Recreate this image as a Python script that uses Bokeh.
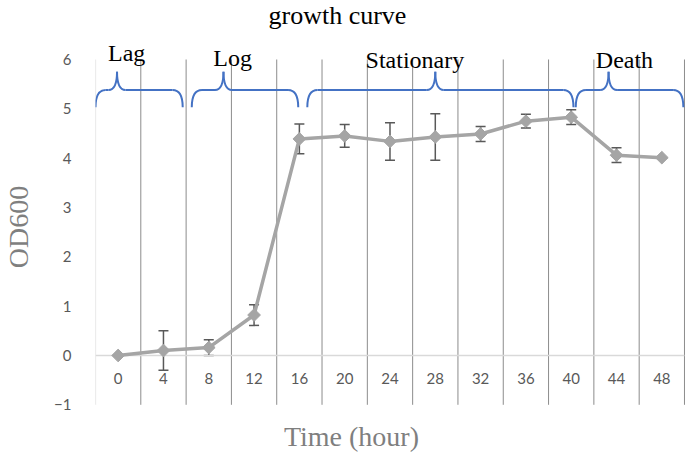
import math
from bokeh.plotting import figure
from bokeh.models import Range1d, FixedTicker, Label, Whisker, TeeHead, ColumnDataSource
from bokeh.core.properties import value
from bokeh.embed import file_html
from bokeh.resources import INLINE

# ---- data ----
hours = [0, 4, 8, 12, 16, 20, 24, 28, 32, 36, 40, 44, 48]
od600 = [0.0, 0.10, 0.16, 0.82, 4.39, 4.45, 4.34, 4.43, 4.49, 4.75, 4.83, 4.06, 4.01]
od600_err = [0.0, 0.40, 0.16, 0.21, 0.30, 0.23, 0.38, 0.47, 0.15, 0.14, 0.15, 0.15, 0.0]
x_tick_labels = ["0", "4", "8", "12", "16", "20", "24", "28", "32", "36", "40", "44", "48"]
y_ticks = [-1, 0, 1, 2, 3, 4, 5, 6]

phase_names = ["Lag", "Log", "Stationary", "Death"]
phase_start = [-2.0, 6.5, 16.7, 40.4]
phase_end = [5.7, 15.9, 40.2, 49.9]
phase_peak = [-0.1, 9.3, 28.0, 43.3]
phase_label_x = [0.75, 10.1, 26.2, 44.7]
phase_label_y = [6.14, 6.04, 5.98, 5.98]

# ---- figure ----
p = figure(width=685, height=453, output_backend="svg", toolbar_location=None,
           x_range=Range1d(-2, 50.09), y_range=Range1d(-1.987, 7.196),
           x_axis_location=None, min_border_left=95, min_border_right=0,
           min_border_top=0, min_border_bottom=0)
p.outline_line_color = None
p.xgrid.visible = False
p.ygrid.visible = False
p.background_fill_color = "white"
p.border_fill_color = "white"

ax = p.yaxis[0]
ax.ticker = FixedTicker(ticks=y_ticks)
ax.axis_line_color = None
ax.major_tick_line_color = None
ax.minor_tick_line_color = None
ax.major_label_standoff = 18
ax.major_label_text_font = "Lato"
ax.major_label_text_font_size = "15px"
ax.major_label_text_color = "#595959"
ax.axis_label = "OD600"
ax.axis_label_text_font = "Liberation Serif"
ax.axis_label_text_font_size = "28px"
ax.axis_label_text_font_style = "normal"
ax.axis_label_text_color = "#7f7f7f"
ax.axis_label_standoff = 17

# vertical category gridlines
bounds = [h - 2 for h in hours] + [hours[-1] + 2]
p.segment(x0=bounds[1:], y0=[y_ticks[0]] * (len(bounds) - 1),
          x1=bounds[1:], y1=[y_ticks[-1]] * (len(bounds) - 1),
          line_color="#8c8c8c", line_width=1)
p.segment(x0=[bounds[0]], y0=[y_ticks[0]], x1=[bounds[0]], y1=[y_ticks[-1]],
          line_color="#d9d9d9", line_width=1.2)
# zero line
p.segment(x0=[bounds[0]], y0=[0], x1=[bounds[-1]], y1=[0],
          line_color="#d9d9d9", line_width=1.5)

# x tick labels (inside plot, below zero line)
p.text(x=hours, y=[-0.47] * len(hours), text=x_tick_labels,
       text_font=value("Lato"), text_font_size="15px", text_color="#595959",
       text_align="center", text_baseline="middle")

# series
src = ColumnDataSource(dict(
    x=hours, y=od600,
    upper=[v + e for v, e in zip(od600, od600_err)],
    lower=[v - e for v, e in zip(od600, od600_err)],
))
p.line("x", "y", source=src, line_color="#a5a5a5", line_width=3.5)
wh = Whisker(source=src, base="x", upper="upper", lower="lower", dimension="height",
             line_color="#595959", line_width=1.5,
             upper_head=TeeHead(size=10, line_color="#595959", line_width=1.5),
             lower_head=TeeHead(size=10, line_color="#595959", line_width=1.5))
p.add_layout(wh)
p.scatter("x", "y", source=src, marker="square", angle=math.pi / 4, size=9,
          fill_color="#a5a5a5", line_color="#a5a5a5")

# phase braces
yE, yB, yT = 5.03, 5.38, 5.75
r_end, r_tip = 0.9, 0.75
qx0, qy0, qx1, qy1, qcx, qcy = [], [], [], [], [], []
sx0, sx1 = [], []
for x0, x1, xp in zip(phase_start, phase_end, phase_peak):
    qx0 += [x0, xp - r_tip, xp, x1 - r_end]
    qy0 += [yE, yB, yT, yB]
    qx1 += [x0 + r_end, xp, xp + r_tip, x1]
    qy1 += [yB, yT, yB, yE]
    qcx += [x0, xp, xp, x1]
    qcy += [yB, yB, yB, yB]
    sx0 += [x0 + r_end, xp + r_tip]
    sx1 += [xp - r_tip, x1 - r_end]
p.quadratic(x0=qx0, y0=qy0, x1=qx1, y1=qy1, cx=qcx, cy=qcy,
            line_color="#4472c4", line_width=2)
p.segment(x0=sx0, y0=[yB] * len(sx0), x1=sx1, y1=[yB] * len(sx1),
          line_color="#4472c4", line_width=2)

p.text(x=phase_label_x, y=phase_label_y, text=phase_names,
       text_font=value("Liberation Serif"), text_font_size="24px", text_color="black",
       text_align="center", text_baseline="alphabetic")

# title and x label
p.add_layout(Label(x=19.36, y=6.89, text="growth curve", text_font="Liberation Serif",
                   text_font_size="26px", text_color="black", text_align="center",
                   text_baseline="alphabetic"))
p.add_layout(Label(x=20.6, y=-1.64, text="Time (hour)", text_font="Liberation Serif",
                   text_font_size="28px", text_color="#7f7f7f", text_align="center",
                   text_baseline="alphabetic"))

open("out.html", "w").write(file_html(p, INLINE))
